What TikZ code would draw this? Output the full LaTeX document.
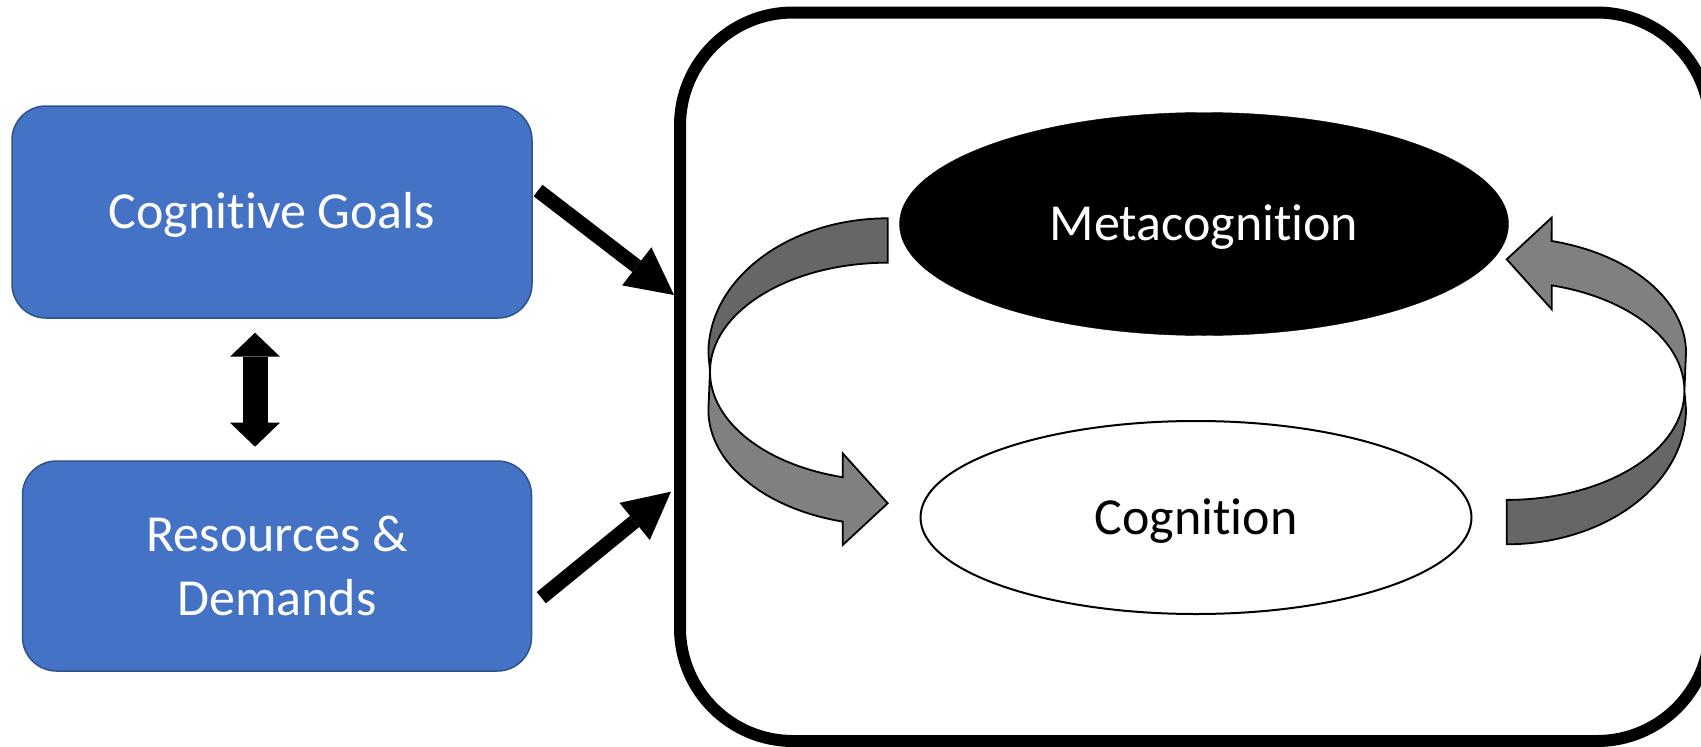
\documentclass[tikz,border=0pt]{standalone}
\usepackage{fontspec}
\setmainfont{Carlito}[Ligatures={NoCommon,NoContextual}]
\usetikzlibrary{arrows.meta,shapes.geometric}
\definecolor{boxblue}{HTML}{4472C4}
\definecolor{boxedge}{HTML}{2F528F}
\definecolor{banddark}{HTML}{666666}
\definecolor{bandlight}{HTML}{808080}
\newcommand{\bandarrow}{%
  \draw[band, fill=banddark] (887.7,218.3)
    arc[start angle=270, end angle=180, x radius=179.3, y radius=135]
    -- (710,371.7)
    arc[start angle=180, end angle=270, x radius=177.7, y radius=109]
    -- cycle;
  \draw[band, fill=bandlight] (708.4,410)
    arc[start angle=180, end angle=104.5, x radius=179.3, y radius=115.3]
    -- (842.7,545) -- (887.7,503.3) -- (842.7,453.3) -- (842.7,477.2)
    arc[start angle=104.67, end angle=180, x radius=177.7, y radius=109]
    -- cycle;
}
\begin{document}
\begin{tikzpicture}[x=1pt,y=-1pt,
  txt/.style={font=\fontsize{52}{64.5}\selectfont},
  oneline/.style={text height=33.5pt, text depth=0pt},
  bluebox/.style={txt, draw=boxedge, line width=1.5pt, fill=boxblue,
    rounded corners=34pt, text=white, align=center, inner sep=0pt},
  band/.style={draw=black, line width=1.8pt, line join=miter},
  blockarrow/.style={line width=14.5pt,
    -{Triangle[length=47pt, width=48pt, line width=0pt]}},
  dblarrow/.style={line width=25pt,
    {Triangle[length=24pt, width=50pt, line width=0pt]}-{Triangle[length=24pt, width=50pt, line width=0pt]}}
]
\useasboundingbox (0,0) rectangle (1701,747);
\clip (0,0) rectangle (1701,747);

% frame
\node[draw=black, line width=12pt, rounded corners=113pt, inner sep=0pt,
  minimum width=1030pt, minimum height=728.5pt] (frame) at (1195,376.75) {};

% left boxes
\node[bluebox, oneline, minimum width=520pt, minimum height=212pt] (goals) at (272,212) {Cognitive Goals};
\node[bluebox, minimum width=509pt, minimum height=210pt] (res) at (277,566) {Resources \&\\Demands};

% ellipses
\node[ellipse, txt, oneline, draw=black, fill=black, text=white, inner sep=0pt,
  minimum width=609pt, minimum height=223pt] (meta) at (1204,224) {Metacognition};
\node[ellipse, txt, oneline, draw=black, line width=2pt, fill=white, text=black, inner sep=0pt,
  minimum width=551pt, minimum height=193pt] (cog) at (1196,517.5) {Cognition};

% curved arrows
\bandarrow
\begin{scope}[rotate around={180:(1197.2,381.3)}]
\bandarrow
\end{scope}

% straight arrows
\coordinate (a1s) at (538,190.5);
\coordinate (a1e) at (674,295);
\coordinate (a2s) at (541.3,597.7);
\coordinate (a2e) at (671,491.7);
\coordinate (d1) at (255,332.7);
\coordinate (d2) at (255,446.7);
\draw[blockarrow] (a1s) -- (a1e);
\draw[blockarrow] (a2s) -- (a2e);
\draw[dblarrow] (d1) -- (d2);
\end{tikzpicture}
\end{document}
